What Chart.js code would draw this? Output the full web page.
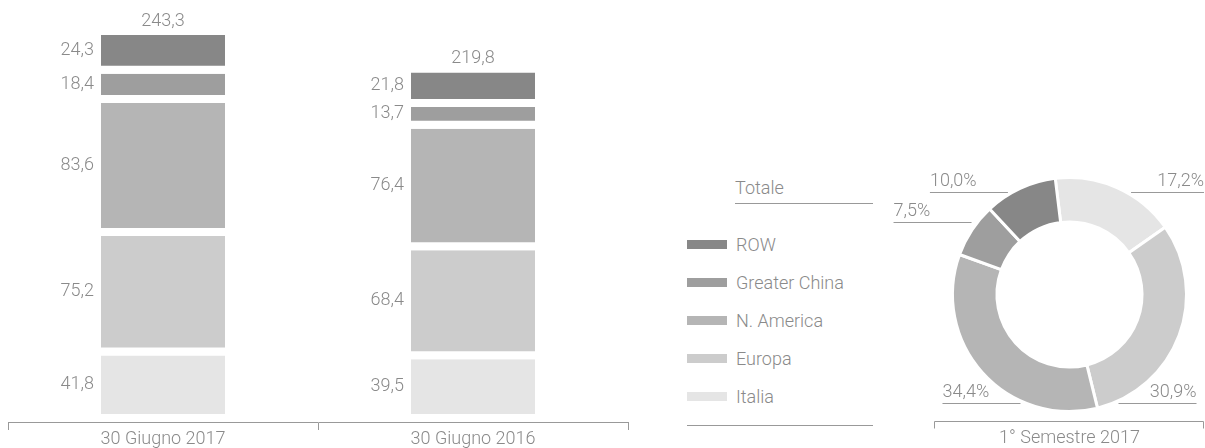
<!DOCTYPE html>
<html>
<head>
<meta charset="utf-8">
<script src="https://cdn.jsdelivr.net/npm/chart.js@4"></script>
<style>
  body { margin: 0; width: 1205px; height: 448px; background: #fff; position: relative; overflow: hidden;
         font-family: Roboto, 'Liberation Sans', sans-serif; font-weight: 300; color: #8a8a8a; }
  #bars { position: absolute; left: 0; top: 0; }
  #donut { position: absolute; left: 890px; top: 0; }
  .legend-title { position: absolute; left: 735px; top: 178px; width: 138px; height: 25px;
                  border-bottom: 1px solid #999; font-size: 18px; line-height: 20px; }
  .legend { position: absolute; left: 687px; top: 225px; width: 186px; }
  .legend .item { display: flex; align-items: center; height: 38px; font-size: 18px; }
  .legend .sw { width: 40px; height: 9px; margin-right: 9px; }
  .legend-bottom { position: absolute; left: 687px; top: 425px; width: 186px; border-top: 1px solid #999; }
</style>
</head>
<body>
<canvas id="bars" width="640" height="448"></canvas>
<div class="legend-title">Totale</div>
<div class="legend" id="legend"></div>
<div class="legend-bottom"></div>
<canvas id="donut" width="315" height="448"></canvas>
<script>
const categories = ['30 Giugno 2017', '30 Giugno 2016'];
const seriesNames = ['Italia', 'Europa', 'N. America', 'Greater China', 'ROW'];
const italia = [41.8, 39.5];
const europa = [75.2, 68.4];
const nAmerica = [83.6, 76.4];
const greaterChina = [18.4, 13.7];
const row = [24.3, 21.8];
const totals = [243.3, 219.8];
const shares2017 = [17.2, 30.9, 34.4, 7.5, 10.0];
const donutTitle = '1° Semestre 2017';
const colors = ['#e5e5e5', '#cccccc', '#b5b5b5', '#9e9e9e', '#878787'];

const txtColor = '#8a8a8a';
const lineColor = '#999999';
const fontFamily = "Roboto, 'Liberation Sans', sans-serif";
const fmt = v => v.toFixed(1).replace('.', ',');

// legend, top to bottom = reverse of stack
const legend = document.getElementById('legend');
for (let i = seriesNames.length - 1; i >= 0; i--) {
  legend.innerHTML += `<div class="item"><span class="sw" style="background:${colors[i]}"></span>${seriesNames[i]}</div>`;
}

const valueLabels = {
  id: 'valueLabels',
  afterDatasetsDraw(chart) {
    const ctx = chart.ctx;
    ctx.save();
    ctx.font = `300 18px ${fontFamily}`;
    ctx.fillStyle = txtColor;
    ctx.textBaseline = 'middle';
    chart.data.datasets.forEach((ds, di) => {
      chart.getDatasetMeta(di).data.forEach((bar, i) => {
        const left = bar.x - bar.width / 2;
        const mid = (bar.y + bar.base - 8) / 2;
        ctx.textAlign = 'right';
        ctx.fillText(fmt(ds.data[i]), left - 7, mid);
        if (di === chart.data.datasets.length - 1) {
          ctx.textAlign = 'center';
          ctx.fillText(fmt(totals[i]), bar.x, bar.y - 14);
        }
      });
    });
    ctx.restore();
  }
};

const seriesData = [italia, europa, nAmerica, greaterChina, row];

new Chart(document.getElementById('bars'), {
  type: 'bar',
  data: {
    labels: categories,
    datasets: seriesNames.map((name, i) => ({
      label: name,
      data: seriesData[i],
      backgroundColor: colors[i],
      borderColor: '#ffffff',
      borderWidth: { top: 0, bottom: 8, left: 0, right: 0 },
      borderSkipped: false,
      barPercentage: 0.4,
      categoryPercentage: 1
    }))
  },
  options: {
    responsive: false,
    animation: false,
    layout: { padding: { left: 8, right: 12, top: 35, bottom: 0 } },
    plugins: { legend: { display: false }, tooltip: { enabled: false } },
    scales: {
      x: {
        stacked: true,
        grid: { display: true, drawOnChartArea: false, tickLength: 8, color: lineColor },
        border: { display: true, color: lineColor },
        ticks: { color: txtColor, font: { family: fontFamily, size: 18, weight: 300, lineHeight: 1 }, padding: 0 }
      },
      y: {
        stacked: true,
        display: false,
        min: 0,
        max: Math.max(...totals)
      }
    }
  },
  plugins: [valueLabels]
});

const donutLabels = {
  id: 'donutLabels',
  afterDraw(chart) {
    const ctx = chart.ctx;
    const arcs = chart.getDatasetMeta(0).data;
    const W = chart.width;
    ctx.save();
    ctx.font = `300 18px ${fontFamily}`;
    ctx.fillStyle = txtColor;
    ctx.strokeStyle = lineColor;
    ctx.lineWidth = 1;
    arcs.forEach((arc, i) => {
      const cx = arc.x, cy = arc.y, R = arc.outerRadius;
      const a = (arc.startAngle + arc.endAngle) / 2;
      let dy = R * Math.sin(a) * 1.12;
      if (Math.sin(a) > 0) dy = R * 0.93;
      dy = Math.max(dy, -R * 0.88);
      const ly = Math.round(cy + dy) + 0.5;
      const dx = Math.sqrt(Math.max(R * R - dy * dy, 0));
      const right = Math.cos(a) > 0;
      let x0, x1;
      if (right) { x0 = cx + dx + 6; x1 = Math.min(x0 + 78, W - 1); }
      else { x0 = cx - dx - 6; x1 = x0 - 78; }
      ctx.beginPath();
      ctx.moveTo(x0, ly);
      ctx.lineTo(x1, ly);
      ctx.stroke();
      ctx.textAlign = right ? 'right' : 'left';
      ctx.textBaseline = 'alphabetic';
      ctx.fillText(fmt(chart.data.datasets[0].data[i]) + '%', x1, ly - 7);
    });
    // bracket with title
    const by = 421.5;
    ctx.beginPath();
    ctx.moveTo(44.5, by + 7); ctx.lineTo(44.5, by); ctx.lineTo(W - 1.5, by); ctx.lineTo(W - 1.5, by + 7);
    ctx.stroke();
    ctx.textAlign = 'center';
    ctx.textBaseline = 'middle';
    ctx.fillText(donutTitle, (44 + W) / 2, 438);
    ctx.restore();
  }
};

new Chart(document.getElementById('donut'), {
  type: 'doughnut',
  data: {
    labels: seriesNames,
    datasets: [{
      data: shares2017,
      backgroundColor: colors,
      borderColor: '#ffffff',
      borderWidth: 3,
      hoverOffset: 0
    }]
  },
  options: {
    responsive: false,
    animation: false,
    rotation: -7,
    cutout: '62%',
    layout: { padding: { left: 61, right: 17, top: 176, bottom: 35 } },
    plugins: { legend: { display: false }, tooltip: { enabled: false } }
  },
  plugins: [donutLabels]
});
</script>
</body>
</html>
